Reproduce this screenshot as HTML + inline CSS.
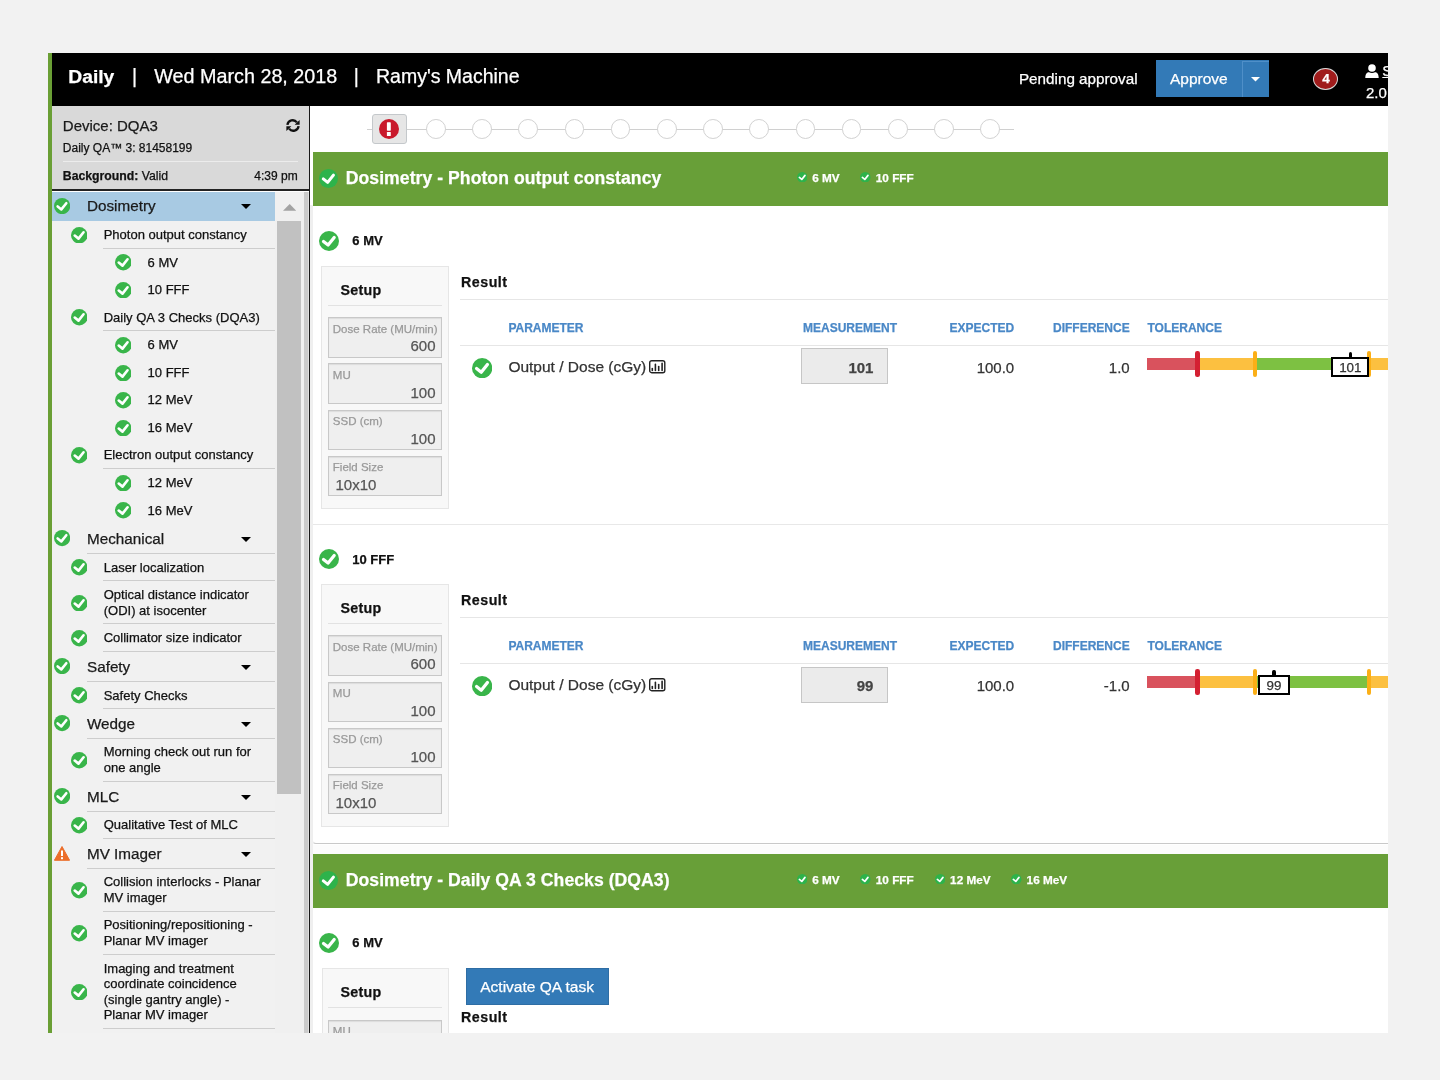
<!DOCTYPE html><html><head><meta charset="utf-8"><title>Daily QA</title><style>
html,body{margin:0;padding:0;}body{width:1440px;height:1080px;background:#f2f2f2;position:relative;overflow:hidden;font-family:"Liberation Sans", Arial, sans-serif;}
.t{position:absolute;white-space:nowrap;-webkit-text-stroke:0.25px currentColor;}.r{position:absolute;display:block;}
#app{position:absolute;left:0;top:0;width:1388px;height:1033px;overflow:hidden;}
</style></head><body><div id="app">
<div class="r" style="left:48.00px;top:53.00px;width:1340.00px;height:980.00px;background:#fff"></div>
<div class="r" style="left:48.00px;top:53.00px;width:1340.00px;height:53.00px;background:#000"></div>
<div class="r" style="left:48.00px;top:53.00px;width:4.00px;height:980.00px;background:#6a9f35"></div>
<div class="t" style="left:68.30px;top:63.83px;font-size:19.25px;line-height:25px;font-weight:bold;color:#fff;">Daily</div>
<div class="t" style="left:132.00px;top:63.74px;font-size:19.5px;line-height:25px;color:#fff;">|</div>
<div class="t" style="left:154.30px;top:63.16px;font-size:19.75px;line-height:26px;color:#fff;">Wed March 28, 2018</div>
<div class="t" style="left:353.80px;top:63.74px;font-size:19.5px;line-height:25px;color:#fff;">|</div>
<div class="t" style="left:376.00px;top:63.74px;font-size:19.5px;line-height:25px;color:#fff;">Ramy's Machine</div>
<div class="t" style="left:1018.90px;top:69.22px;font-size:15.25px;line-height:20px;color:#fff;">Pending approval</div>
<div class="r" style="left:1156.00px;top:60.00px;width:113.00px;height:37.00px;background:#337ab7"></div>
<div class="r" style="left:1242.00px;top:61.00px;width:1.00px;height:36.00px;background:#4f8fc8"></div>
<div class="r" style="left:1243.00px;top:61.00px;width:26.00px;height:1.00px;background:#4f8fc8"></div>
<div class="t" style="left:1170.00px;top:68.63px;font-size:15.5px;line-height:20px;color:#fff;">Approve</div>
<svg class="r" style="left:1250.50px;top:77.25px" width="9" height="4.5" viewBox="0 0 9 4.5"><path d="M0,0 L9,0 L4.5,4.5 Z" fill="#fff"/></svg>
<div class="r" style="left:1312.8px;top:68px;width:23px;height:19.8px;border:1.5px solid #d9d9d9;border-radius:50%;background:#a01c1c;"></div>
<div class="t" style="left:1026.00px;width:600px;text-align:center;top:70.32px;font-size:13.5px;line-height:18px;font-weight:bold;color:#fff;">4</div>
<svg class="r" style="left:1365px;top:63.5px" width="14" height="14.5" viewBox="0 0 14 14.5"><circle cx="7" cy="4" r="3.8" fill="#fff"/><path d="M0.3,14.2 C0.3,9.5 2,8.4 4,8.2 C5.5,9.3 8.5,9.3 10,8.2 C12,8.4 13.7,9.5 13.7,14.2 Z" fill="#fff"/></svg>
<div class="t" style="left:1382.30px;top:60.80px;font-size:15px;line-height:20px;color:#fff;text-decoration:underline;">S</div>
<div class="t" style="left:1366.00px;top:82.80px;font-size:15px;line-height:20px;color:#fff;">2.0</div>
<div class="r" style="left:52.00px;top:106.00px;width:258.00px;height:84.00px;background:#d9d9d9"></div>
<div class="t" style="left:62.80px;top:116.00px;font-size:15px;line-height:20px;color:#1a1a1a;">Device: DQA3</div>
<div class="t" style="left:62.80px;top:139.84px;font-size:12px;line-height:16px;color:#111;">Daily QA™ 3: 81458199</div>
<div class="r" style="left:62.80px;top:161.00px;width:235.50px;height:1.00px;background:#ececec"></div>
<div class="t" style="left:62.80px;top:167.76px;font-size:12.25px;line-height:16px;color:#111;"><b>Background:</b> Valid</div>
<div class="t" style="right:1090.30px;text-align:right;top:167.84px;font-size:12px;line-height:16px;color:#111;">4:39 pm</div>
<svg class="r" style="left:286px;top:119px" width="14" height="13" viewBox="0 0 14 13"><path d="M1.4,5.9 A5.3,5.3 0 0 1 10.9,3.4" fill="none" stroke="#111" stroke-width="2.3"/><path d="M13.6,1 L13.6,5.8 L8.6,5.8 Z" fill="#111"/><path d="M12.6,7.1 A5.3,5.3 0 0 1 3.1,9.6" fill="none" stroke="#111" stroke-width="2.3"/><path d="M0.4,12 L0.4,7.2 L5.4,7.2 Z" fill="#111"/></svg>
<div class="r" style="left:52.00px;top:189.00px;width:257.00px;height:1.50px;background:#222"></div>
<div class="r" style="left:52.00px;top:190.50px;width:257.00px;height:1.50px;background:#fff"></div>
<div class="r" style="left:52.00px;top:192.00px;width:257.00px;height:841.00px;background:#f1f1f1"></div>
<div class="r" style="left:52.00px;top:192.00px;width:223.00px;height:29.00px;background:#a8cae3"></div>
<div class="r" style="left:275.00px;top:192.00px;width:28.60px;height:841.00px;background:#f0f0f0"></div>
<svg class="r" style="left:282.8px;top:203.8px" width="13.4" height="6.8" viewBox="0 0 13.4 6.8"><path d="M0,6.8 L6.7,0 L13.4,6.8 Z" fill="#a3a3a3"/></svg>
<div class="r" style="left:277.20px;top:220.80px;width:23.90px;height:573.60px;background:#c1c1c1"></div>
<div class="r" style="left:303.80px;top:192.00px;width:4.20px;height:841.00px;background:#cbcbcb"></div>
<div class="r" style="left:308.90px;top:106.00px;width:1.40px;height:927.00px;background:#1a1a1a"></div>
<div class="r" style="left:308.00px;top:192.00px;width:0.90px;height:841.00px;background:#e0e0e0"></div>
<svg class="r" style="left:53.80px;top:197.70px" width="16.20" height="16.20" viewBox="-10 -10 20 20"><circle r="10" fill="#39b54a"/><path d="M-5.5,0.4 L-0.9,4.1 L5.2,-3.6" fill="none" stroke="#fff" stroke-width="3.2" stroke-linecap="round" stroke-linejoin="round"/></svg>
<div class="t" style="left:87.00px;top:196.12px;font-size:15.25px;line-height:20px;color:#1a1a1a;">Dosimetry</div>
<svg class="r" style="left:241.00px;top:204.10px" width="10" height="5" viewBox="0 0 10 5"><path d="M0,0 L10,0 L5.0,5 Z" fill="#000"/></svg>
<svg class="r" style="left:70.75px;top:226.72px" width="16.50" height="16.50" viewBox="-10 -10 20 20"><circle r="10" fill="#39b54a"/><path d="M-5.5,0.4 L-0.9,4.1 L5.2,-3.6" fill="none" stroke="#fff" stroke-width="3.2" stroke-linecap="round" stroke-linejoin="round"/></svg>
<div class="t" style="left:103.70px;top:226.07px;font-size:13px;line-height:17px;color:#111;">Photon output constancy</div>
<div class="r" style="left:103.40px;top:247.65px;width:171.60px;height:1.00px;background:#cdcdcd"></div>
<svg class="r" style="left:114.75px;top:254.38px" width="16.50" height="16.50" viewBox="-10 -10 20 20"><circle r="10" fill="#39b54a"/><path d="M-5.5,0.4 L-0.9,4.1 L5.2,-3.6" fill="none" stroke="#fff" stroke-width="3.2" stroke-linecap="round" stroke-linejoin="round"/></svg>
<div class="t" style="left:147.60px;top:253.62px;font-size:13px;line-height:17px;color:#111;">6 MV</div>
<svg class="r" style="left:114.75px;top:281.92px" width="16.50" height="16.50" viewBox="-10 -10 20 20"><circle r="10" fill="#39b54a"/><path d="M-5.5,0.4 L-0.9,4.1 L5.2,-3.6" fill="none" stroke="#fff" stroke-width="3.2" stroke-linecap="round" stroke-linejoin="round"/></svg>
<div class="t" style="left:147.60px;top:281.17px;font-size:13px;line-height:17px;color:#111;">10 FFF</div>
<svg class="r" style="left:70.75px;top:309.38px" width="16.50" height="16.50" viewBox="-10 -10 20 20"><circle r="10" fill="#39b54a"/><path d="M-5.5,0.4 L-0.9,4.1 L5.2,-3.6" fill="none" stroke="#fff" stroke-width="3.2" stroke-linecap="round" stroke-linejoin="round"/></svg>
<div class="t" style="left:103.70px;top:308.72px;font-size:13px;line-height:17px;color:#111;">Daily QA 3 Checks (DQA3)</div>
<div class="r" style="left:103.40px;top:330.30px;width:171.60px;height:1.00px;background:#cdcdcd"></div>
<svg class="r" style="left:114.75px;top:337.02px" width="16.50" height="16.50" viewBox="-10 -10 20 20"><circle r="10" fill="#39b54a"/><path d="M-5.5,0.4 L-0.9,4.1 L5.2,-3.6" fill="none" stroke="#fff" stroke-width="3.2" stroke-linecap="round" stroke-linejoin="round"/></svg>
<div class="t" style="left:147.60px;top:336.27px;font-size:13px;line-height:17px;color:#111;">6 MV</div>
<svg class="r" style="left:114.75px;top:364.57px" width="16.50" height="16.50" viewBox="-10 -10 20 20"><circle r="10" fill="#39b54a"/><path d="M-5.5,0.4 L-0.9,4.1 L5.2,-3.6" fill="none" stroke="#fff" stroke-width="3.2" stroke-linecap="round" stroke-linejoin="round"/></svg>
<div class="t" style="left:147.60px;top:363.82px;font-size:13px;line-height:17px;color:#111;">10 FFF</div>
<svg class="r" style="left:114.75px;top:392.12px" width="16.50" height="16.50" viewBox="-10 -10 20 20"><circle r="10" fill="#39b54a"/><path d="M-5.5,0.4 L-0.9,4.1 L5.2,-3.6" fill="none" stroke="#fff" stroke-width="3.2" stroke-linecap="round" stroke-linejoin="round"/></svg>
<div class="t" style="left:147.60px;top:391.37px;font-size:13px;line-height:17px;color:#111;">12 MeV</div>
<svg class="r" style="left:114.75px;top:419.68px" width="16.50" height="16.50" viewBox="-10 -10 20 20"><circle r="10" fill="#39b54a"/><path d="M-5.5,0.4 L-0.9,4.1 L5.2,-3.6" fill="none" stroke="#fff" stroke-width="3.2" stroke-linecap="round" stroke-linejoin="round"/></svg>
<div class="t" style="left:147.60px;top:418.92px;font-size:13px;line-height:17px;color:#111;">16 MeV</div>
<svg class="r" style="left:70.75px;top:447.13px" width="16.50" height="16.50" viewBox="-10 -10 20 20"><circle r="10" fill="#39b54a"/><path d="M-5.5,0.4 L-0.9,4.1 L5.2,-3.6" fill="none" stroke="#fff" stroke-width="3.2" stroke-linecap="round" stroke-linejoin="round"/></svg>
<div class="t" style="left:103.70px;top:446.47px;font-size:13px;line-height:17px;color:#111;">Electron output constancy</div>
<div class="r" style="left:103.40px;top:468.05px;width:171.60px;height:1.00px;background:#cdcdcd"></div>
<svg class="r" style="left:114.75px;top:474.78px" width="16.50" height="16.50" viewBox="-10 -10 20 20"><circle r="10" fill="#39b54a"/><path d="M-5.5,0.4 L-0.9,4.1 L5.2,-3.6" fill="none" stroke="#fff" stroke-width="3.2" stroke-linecap="round" stroke-linejoin="round"/></svg>
<div class="t" style="left:147.60px;top:474.02px;font-size:13px;line-height:17px;color:#111;">12 MeV</div>
<svg class="r" style="left:114.75px;top:502.33px" width="16.50" height="16.50" viewBox="-10 -10 20 20"><circle r="10" fill="#39b54a"/><path d="M-5.5,0.4 L-0.9,4.1 L5.2,-3.6" fill="none" stroke="#fff" stroke-width="3.2" stroke-linecap="round" stroke-linejoin="round"/></svg>
<div class="t" style="left:147.60px;top:501.57px;font-size:13px;line-height:17px;color:#111;">16 MeV</div>
<svg class="r" style="left:53.80px;top:530.35px" width="16.20" height="16.20" viewBox="-10 -10 20 20"><circle r="10" fill="#39b54a"/><path d="M-5.5,0.4 L-0.9,4.1 L5.2,-3.6" fill="none" stroke="#fff" stroke-width="3.2" stroke-linecap="round" stroke-linejoin="round"/></svg>
<div class="t" style="left:87.00px;top:528.77px;font-size:15.25px;line-height:20px;color:#1a1a1a;">Mechanical</div>
<svg class="r" style="left:241.00px;top:536.75px" width="10" height="5" viewBox="0 0 10 5"><path d="M0,0 L10,0 L5.0,5 Z" fill="#000"/></svg>
<div class="r" style="left:87.00px;top:552.75px;width:188.00px;height:1.00px;background:#cdcdcd"></div>
<svg class="r" style="left:70.75px;top:559.38px" width="16.50" height="16.50" viewBox="-10 -10 20 20"><circle r="10" fill="#39b54a"/><path d="M-5.5,0.4 L-0.9,4.1 L5.2,-3.6" fill="none" stroke="#fff" stroke-width="3.2" stroke-linecap="round" stroke-linejoin="round"/></svg>
<div class="t" style="left:103.70px;top:558.72px;font-size:13px;line-height:17px;color:#111;">Laser localization</div>
<div class="r" style="left:103.40px;top:580.30px;width:171.60px;height:1.00px;background:#cdcdcd"></div>
<svg class="r" style="left:70.75px;top:594.73px" width="16.50" height="16.50" viewBox="-10 -10 20 20"><circle r="10" fill="#39b54a"/><path d="M-5.5,0.4 L-0.9,4.1 L5.2,-3.6" fill="none" stroke="#fff" stroke-width="3.2" stroke-linecap="round" stroke-linejoin="round"/></svg>
<div class="t" style="left:103.7px;top:586.97px;font-size:13px;line-height:15.6px;color:#111;">Optical distance indicator<br>(ODI) at isocenter</div>
<div class="r" style="left:103.40px;top:623.45px;width:171.60px;height:1.00px;background:#cdcdcd"></div>
<svg class="r" style="left:70.75px;top:630.08px" width="16.50" height="16.50" viewBox="-10 -10 20 20"><circle r="10" fill="#39b54a"/><path d="M-5.5,0.4 L-0.9,4.1 L5.2,-3.6" fill="none" stroke="#fff" stroke-width="3.2" stroke-linecap="round" stroke-linejoin="round"/></svg>
<div class="t" style="left:103.70px;top:629.42px;font-size:13px;line-height:17px;color:#111;">Collimator size indicator</div>
<div class="r" style="left:103.40px;top:651.00px;width:171.60px;height:1.00px;background:#cdcdcd"></div>
<svg class="r" style="left:53.80px;top:658.20px" width="16.20" height="16.20" viewBox="-10 -10 20 20"><circle r="10" fill="#39b54a"/><path d="M-5.5,0.4 L-0.9,4.1 L5.2,-3.6" fill="none" stroke="#fff" stroke-width="3.2" stroke-linecap="round" stroke-linejoin="round"/></svg>
<div class="t" style="left:87.00px;top:656.62px;font-size:15.25px;line-height:20px;color:#1a1a1a;">Safety</div>
<svg class="r" style="left:241.00px;top:664.60px" width="10" height="5" viewBox="0 0 10 5"><path d="M0,0 L10,0 L5.0,5 Z" fill="#000"/></svg>
<div class="r" style="left:87.00px;top:680.60px;width:188.00px;height:1.00px;background:#cdcdcd"></div>
<svg class="r" style="left:70.75px;top:687.23px" width="16.50" height="16.50" viewBox="-10 -10 20 20"><circle r="10" fill="#39b54a"/><path d="M-5.5,0.4 L-0.9,4.1 L5.2,-3.6" fill="none" stroke="#fff" stroke-width="3.2" stroke-linecap="round" stroke-linejoin="round"/></svg>
<div class="t" style="left:103.70px;top:686.57px;font-size:13px;line-height:17px;color:#111;">Safety Checks</div>
<div class="r" style="left:103.40px;top:708.15px;width:171.60px;height:1.00px;background:#cdcdcd"></div>
<svg class="r" style="left:53.80px;top:715.35px" width="16.20" height="16.20" viewBox="-10 -10 20 20"><circle r="10" fill="#39b54a"/><path d="M-5.5,0.4 L-0.9,4.1 L5.2,-3.6" fill="none" stroke="#fff" stroke-width="3.2" stroke-linecap="round" stroke-linejoin="round"/></svg>
<div class="t" style="left:87.00px;top:713.77px;font-size:15.25px;line-height:20px;color:#1a1a1a;">Wedge</div>
<svg class="r" style="left:241.00px;top:721.75px" width="10" height="5" viewBox="0 0 10 5"><path d="M0,0 L10,0 L5.0,5 Z" fill="#000"/></svg>
<div class="r" style="left:87.00px;top:737.75px;width:188.00px;height:1.00px;background:#cdcdcd"></div>
<svg class="r" style="left:70.75px;top:752.18px" width="16.50" height="16.50" viewBox="-10 -10 20 20"><circle r="10" fill="#39b54a"/><path d="M-5.5,0.4 L-0.9,4.1 L5.2,-3.6" fill="none" stroke="#fff" stroke-width="3.2" stroke-linecap="round" stroke-linejoin="round"/></svg>
<div class="t" style="left:103.7px;top:744.42px;font-size:13px;line-height:15.6px;color:#111;">Morning check out run for<br>one angle</div>
<div class="r" style="left:103.40px;top:780.90px;width:171.60px;height:1.00px;background:#cdcdcd"></div>
<svg class="r" style="left:53.80px;top:788.10px" width="16.20" height="16.20" viewBox="-10 -10 20 20"><circle r="10" fill="#39b54a"/><path d="M-5.5,0.4 L-0.9,4.1 L5.2,-3.6" fill="none" stroke="#fff" stroke-width="3.2" stroke-linecap="round" stroke-linejoin="round"/></svg>
<div class="t" style="left:87.00px;top:786.52px;font-size:15.25px;line-height:20px;color:#1a1a1a;">MLC</div>
<svg class="r" style="left:241.00px;top:794.50px" width="10" height="5" viewBox="0 0 10 5"><path d="M0,0 L10,0 L5.0,5 Z" fill="#000"/></svg>
<div class="r" style="left:87.00px;top:810.50px;width:188.00px;height:1.00px;background:#cdcdcd"></div>
<svg class="r" style="left:70.75px;top:817.12px" width="16.50" height="16.50" viewBox="-10 -10 20 20"><circle r="10" fill="#39b54a"/><path d="M-5.5,0.4 L-0.9,4.1 L5.2,-3.6" fill="none" stroke="#fff" stroke-width="3.2" stroke-linecap="round" stroke-linejoin="round"/></svg>
<div class="t" style="left:103.70px;top:816.47px;font-size:13px;line-height:17px;color:#111;">Qualitative Test of MLC</div>
<div class="r" style="left:103.40px;top:838.05px;width:171.60px;height:1.00px;background:#cdcdcd"></div>
<svg class="r" style="left:54px;top:845.85px" width="16" height="15" viewBox="0 0 16 15"><path d="M8,0.5 L15.6,14.3 L0.4,14.3 Z" fill="#ec6e2b" stroke="#ec6e2b" stroke-width="1" stroke-linejoin="round"/><rect x="7" y="4.5" width="2" height="5.5" fill="#fff"/><rect x="7" y="11.2" width="2" height="2" fill="#fff"/></svg>
<div class="t" style="left:87.00px;top:843.67px;font-size:15.25px;line-height:20px;color:#1a1a1a;">MV Imager</div>
<svg class="r" style="left:241.00px;top:851.65px" width="10" height="5" viewBox="0 0 10 5"><path d="M0,0 L10,0 L5.0,5 Z" fill="#000"/></svg>
<div class="r" style="left:87.00px;top:867.65px;width:188.00px;height:1.00px;background:#cdcdcd"></div>
<svg class="r" style="left:70.75px;top:882.08px" width="16.50" height="16.50" viewBox="-10 -10 20 20"><circle r="10" fill="#39b54a"/><path d="M-5.5,0.4 L-0.9,4.1 L5.2,-3.6" fill="none" stroke="#fff" stroke-width="3.2" stroke-linecap="round" stroke-linejoin="round"/></svg>
<div class="t" style="left:103.7px;top:874.32px;font-size:13px;line-height:15.6px;color:#111;">Collision interlocks - Planar<br>MV imager</div>
<div class="r" style="left:103.40px;top:910.80px;width:171.60px;height:1.00px;background:#cdcdcd"></div>
<svg class="r" style="left:70.75px;top:925.23px" width="16.50" height="16.50" viewBox="-10 -10 20 20"><circle r="10" fill="#39b54a"/><path d="M-5.5,0.4 L-0.9,4.1 L5.2,-3.6" fill="none" stroke="#fff" stroke-width="3.2" stroke-linecap="round" stroke-linejoin="round"/></svg>
<div class="t" style="left:103.7px;top:917.47px;font-size:13px;line-height:15.6px;color:#111;">Positioning/repositioning -<br>Planar MV imager</div>
<div class="r" style="left:103.40px;top:953.95px;width:171.60px;height:1.00px;background:#cdcdcd"></div>
<svg class="r" style="left:70.75px;top:983.97px" width="16.50" height="16.50" viewBox="-10 -10 20 20"><circle r="10" fill="#39b54a"/><path d="M-5.5,0.4 L-0.9,4.1 L5.2,-3.6" fill="none" stroke="#fff" stroke-width="3.2" stroke-linecap="round" stroke-linejoin="round"/></svg>
<div class="t" style="left:103.7px;top:960.62px;font-size:13px;line-height:15.6px;color:#111;">Imaging and treatment<br>coordinate coincidence<br>(single gantry angle) -<br>Planar MV imager</div>
<div class="r" style="left:103.40px;top:1028.30px;width:171.60px;height:1.00px;background:#cdcdcd"></div>
<div class="r" style="left:310.30px;top:205.00px;width:2.50px;height:828.00px;background:#efefef"></div>
<div class="r" style="left:366.70px;top:129.00px;width:647.00px;height:1.20px;background:#d0d0d0"></div>
<div class="r" style="left:372px;top:114px;width:33px;height:28px;background:#e6e6e6;border:1px solid #c4c8cb;border-radius:3px;"></div>
<svg class="r" style="left:379.4px;top:119.2px" width="20" height="20" viewBox="0 0 20 20"><circle cx="10" cy="10" r="10" fill="#c9192c"/><rect x="7.9" y="3.3" width="3.9" height="8.4" rx="0.6" fill="#fff"/><rect x="7.9" y="13" width="3.9" height="4" rx="0.5" fill="#fff"/></svg>
<div class="r" style="left:425.90px;top:119.1px;width:17.8px;height:17.8px;border:1.1px solid #d2d2d2;border-radius:50%;background:#fff;"></div>
<div class="r" style="left:472.10px;top:119.1px;width:17.8px;height:17.8px;border:1.1px solid #d2d2d2;border-radius:50%;background:#fff;"></div>
<div class="r" style="left:518.30px;top:119.1px;width:17.8px;height:17.8px;border:1.1px solid #d2d2d2;border-radius:50%;background:#fff;"></div>
<div class="r" style="left:564.50px;top:119.1px;width:17.8px;height:17.8px;border:1.1px solid #d2d2d2;border-radius:50%;background:#fff;"></div>
<div class="r" style="left:610.70px;top:119.1px;width:17.8px;height:17.8px;border:1.1px solid #d2d2d2;border-radius:50%;background:#fff;"></div>
<div class="r" style="left:656.90px;top:119.1px;width:17.8px;height:17.8px;border:1.1px solid #d2d2d2;border-radius:50%;background:#fff;"></div>
<div class="r" style="left:703.10px;top:119.1px;width:17.8px;height:17.8px;border:1.1px solid #d2d2d2;border-radius:50%;background:#fff;"></div>
<div class="r" style="left:749.30px;top:119.1px;width:17.8px;height:17.8px;border:1.1px solid #d2d2d2;border-radius:50%;background:#fff;"></div>
<div class="r" style="left:795.50px;top:119.1px;width:17.8px;height:17.8px;border:1.1px solid #d2d2d2;border-radius:50%;background:#fff;"></div>
<div class="r" style="left:841.70px;top:119.1px;width:17.8px;height:17.8px;border:1.1px solid #d2d2d2;border-radius:50%;background:#fff;"></div>
<div class="r" style="left:887.90px;top:119.1px;width:17.8px;height:17.8px;border:1.1px solid #d2d2d2;border-radius:50%;background:#fff;"></div>
<div class="r" style="left:934.10px;top:119.1px;width:17.8px;height:17.8px;border:1.1px solid #d2d2d2;border-radius:50%;background:#fff;"></div>
<div class="r" style="left:980.30px;top:119.1px;width:17.8px;height:17.8px;border:1.1px solid #d2d2d2;border-radius:50%;background:#fff;"></div>
<div class="r" style="left:312.50px;top:152.20px;width:1076.00px;height:53.80px;background:#689f38"></div>
<svg class="r" style="left:319.30px;top:168.80px" width="19.00" height="19.00" viewBox="-10 -10 20 20"><circle r="10" fill="#2db34b"/><path d="M-5.5,0.4 L-0.9,4.1 L5.2,-3.6" fill="none" stroke="#fff" stroke-width="3.2" stroke-linecap="round" stroke-linejoin="round"/></svg>
<div class="t" style="left:345.80px;top:166.80px;font-size:17.6px;line-height:23px;font-weight:bold;color:#fff;letter-spacing:0.05px;">Dosimetry - Photon output constancy</div>
<svg class="r" style="left:796.65px;top:171.95px" width="10.50" height="10.50" viewBox="-10 -10 20 20"><circle r="10" fill="#2db34b"/><path d="M-5.5,0.4 L-0.9,4.1 L5.2,-3.6" fill="none" stroke="#fff" stroke-width="3.2" stroke-linecap="round" stroke-linejoin="round"/></svg>
<div class="t" style="left:812.20px;top:170.13px;font-size:11.75px;line-height:15px;font-weight:bold;color:#fff;">6 MV</div>
<svg class="r" style="left:860.25px;top:171.95px" width="10.50" height="10.50" viewBox="-10 -10 20 20"><circle r="10" fill="#2db34b"/><path d="M-5.5,0.4 L-0.9,4.1 L5.2,-3.6" fill="none" stroke="#fff" stroke-width="3.2" stroke-linecap="round" stroke-linejoin="round"/></svg>
<div class="t" style="left:875.80px;top:170.13px;font-size:11.75px;line-height:15px;font-weight:bold;color:#fff;">10 FFF</div>
<svg class="r" style="left:318.90px;top:230.80px" width="20.00" height="20.00" viewBox="-10 -10 20 20"><circle r="10" fill="#39b54a"/><path d="M-5.5,0.4 L-0.9,4.1 L5.2,-3.6" fill="none" stroke="#fff" stroke-width="3.2" stroke-linecap="round" stroke-linejoin="round"/></svg>
<div class="t" style="left:352.30px;top:232.40px;font-size:13px;line-height:17px;font-weight:bold;color:#111;">6 MV</div>
<div class="r" style="left:321.1px;top:265.80px;width:125.5px;height:241.00px;background:#f8f8f8;border:1px solid #e6e6e6;"></div>
<div class="t" style="left:340.50px;top:280.66px;font-size:14.25px;line-height:19px;font-weight:bold;color:#111;letter-spacing:0.3px;">Setup</div>
<div class="r" style="left:328.00px;top:305.30px;width:114.00px;height:1.00px;background:#e2e2e2"></div>
<div class="r" style="left:328px;top:317.20px;width:111.7px;height:38.5px;background:#efefef;border:1px solid #c8c8c8;box-shadow:inset 0 1px 1px rgba(0,0,0,.08);"></div>
<div class="t" style="left:332.80px;top:321.52px;font-size:11.5px;line-height:15px;color:#999;">Dose Rate (MU/min)</div>
<div class="t" style="right:952.50px;text-align:right;top:336.30px;font-size:15px;line-height:20px;color:#555;">600</div>
<div class="r" style="left:328px;top:363.40px;width:111.7px;height:38.5px;background:#efefef;border:1px solid #c8c8c8;box-shadow:inset 0 1px 1px rgba(0,0,0,.08);"></div>
<div class="t" style="left:332.80px;top:367.72px;font-size:11.5px;line-height:15px;color:#999;">MU</div>
<div class="t" style="right:952.50px;text-align:right;top:382.50px;font-size:15px;line-height:20px;color:#555;">100</div>
<div class="r" style="left:328px;top:409.60px;width:111.7px;height:38.5px;background:#efefef;border:1px solid #c8c8c8;box-shadow:inset 0 1px 1px rgba(0,0,0,.08);"></div>
<div class="t" style="left:332.80px;top:413.92px;font-size:11.5px;line-height:15px;color:#999;">SSD (cm)</div>
<div class="t" style="right:952.50px;text-align:right;top:428.70px;font-size:15px;line-height:20px;color:#555;">100</div>
<div class="r" style="left:328px;top:455.80px;width:111.7px;height:38.5px;background:#efefef;border:1px solid #c8c8c8;box-shadow:inset 0 1px 1px rgba(0,0,0,.08);"></div>
<div class="t" style="left:332.80px;top:460.12px;font-size:11.5px;line-height:15px;color:#999;">Field Size</div>
<div class="t" style="left:335.50px;top:474.90px;font-size:15px;line-height:20px;color:#555;">10x10</div>
<div class="t" style="left:461.00px;top:272.96px;font-size:14.25px;line-height:19px;font-weight:bold;color:#111;letter-spacing:0.5px;">Result</div>
<div class="r" style="left:460.00px;top:299.00px;width:928.00px;height:1.20px;background:#e6e6e6"></div>
<div class="t" style="left:508.40px;top:319.64px;font-size:12px;line-height:16px;font-weight:bold;color:#4a88c7;">PARAMETER</div>
<div class="t" style="left:803.00px;top:319.64px;font-size:12px;line-height:16px;font-weight:bold;color:#4a88c7;">MEASUREMENT</div>
<div class="t" style="right:373.80px;text-align:right;top:319.64px;font-size:12px;line-height:16px;font-weight:bold;color:#4a88c7;">EXPECTED</div>
<div class="t" style="right:258.30px;text-align:right;top:319.64px;font-size:12px;line-height:16px;font-weight:bold;color:#4a88c7;">DIFFERENCE</div>
<div class="t" style="left:1147.50px;top:319.64px;font-size:12px;line-height:16px;font-weight:bold;color:#4a88c7;">TOLERANCE</div>
<div class="r" style="left:460.00px;top:345.00px;width:928.00px;height:1.20px;background:#e6e6e6"></div>
<svg class="r" style="left:471.75px;top:357.65px" width="20.30" height="20.30" viewBox="-10 -10 20 20"><circle r="10" fill="#39b54a"/><path d="M-5.5,0.4 L-0.9,4.1 L5.2,-3.6" fill="none" stroke="#fff" stroke-width="3.2" stroke-linecap="round" stroke-linejoin="round"/></svg>
<div class="t" style="left:508.40px;top:357.03px;font-size:15.5px;line-height:20px;color:#333;">Output / Dose (cGy)</div>
<svg class="r" style="left:649.3px;top:360.20px" width="16.5" height="13.4" viewBox="0 0 16.5 13.4"><rect x="0.7" y="0.7" width="15.1" height="12" rx="2" fill="none" stroke="#222" stroke-width="1.4"/><g stroke="#222" stroke-width="1.6" stroke-linecap="round"><line x1="3.3" y1="10.4" x2="3.3" y2="8.5"/><line x1="6.4" y1="10.4" x2="6.4" y2="4.4"/><line x1="9.7" y1="10.4" x2="9.7" y2="6.6"/><line x1="13.1" y1="10.4" x2="13.1" y2="3.4"/></g></svg>
<div class="r" style="left:800.6px;top:348.40px;width:85px;height:34px;background:#ebebeb;border:1px solid #c6c6c6;"></div>
<div class="t" style="right:514.60px;text-align:right;top:357.80px;font-size:15px;line-height:20px;font-weight:bold;color:#444;">101</div>
<div class="t" style="right:373.80px;text-align:right;top:357.80px;font-size:15px;line-height:20px;color:#333;">100.0</div>
<div class="t" style="right:258.30px;text-align:right;top:357.80px;font-size:15px;line-height:20px;color:#333;">1.0</div>
<div class="r" style="left:1147.00px;top:358.30px;width:50.40px;height:11.30px;background:#d9525d"></div>
<div class="r" style="left:1197.40px;top:358.30px;width:57.30px;height:11.30px;background:#fcc040"></div>
<div class="r" style="left:1254.70px;top:358.30px;width:114.60px;height:11.30px;background:#7dc142"></div>
<div class="r" style="left:1369.30px;top:358.30px;width:20.00px;height:11.30px;background:#fcc040"></div>
<div class="r" style="left:1195.20px;top:351.30px;width:4.4px;height:25.5px;background:#d42032;border-radius:2.2px;"></div>
<div class="r" style="left:1252.50px;top:351.30px;width:4.4px;height:25.5px;background:#fbaf17;border-radius:2.2px;"></div>
<div class="r" style="left:1367.10px;top:351.30px;width:4.4px;height:25.5px;background:#fbaf17;border-radius:2.2px;"></div>
<div class="r" style="left:1348.60px;top:351.60px;width:3.4px;height:8px;background:#000;border-radius:1.7px 1.7px 0 0;"></div>
<div class="r" style="left:1331.30px;top:357.10px;width:34.00px;height:16px;border:2px solid #000;background:#fff;"></div>
<div class="t" style="left:1050.30px;width:600px;text-align:center;top:358.86px;font-size:13.4px;line-height:17px;color:#333;">101</div>
<div class="r" style="left:312.50px;top:523.80px;width:1076.00px;height:1.20px;background:#e8e8e8"></div>
<svg class="r" style="left:318.90px;top:548.90px" width="20.00" height="20.00" viewBox="-10 -10 20 20"><circle r="10" fill="#39b54a"/><path d="M-5.5,0.4 L-0.9,4.1 L5.2,-3.6" fill="none" stroke="#fff" stroke-width="3.2" stroke-linecap="round" stroke-linejoin="round"/></svg>
<div class="t" style="left:352.30px;top:550.50px;font-size:13px;line-height:17px;font-weight:bold;color:#111;">10 FFF</div>
<div class="r" style="left:321.1px;top:583.90px;width:125.5px;height:241.00px;background:#f8f8f8;border:1px solid #e6e6e6;"></div>
<div class="t" style="left:340.50px;top:598.76px;font-size:14.25px;line-height:19px;font-weight:bold;color:#111;letter-spacing:0.3px;">Setup</div>
<div class="r" style="left:328.00px;top:623.40px;width:114.00px;height:1.00px;background:#e2e2e2"></div>
<div class="r" style="left:328px;top:635.30px;width:111.7px;height:38.5px;background:#efefef;border:1px solid #c8c8c8;box-shadow:inset 0 1px 1px rgba(0,0,0,.08);"></div>
<div class="t" style="left:332.80px;top:639.62px;font-size:11.5px;line-height:15px;color:#999;">Dose Rate (MU/min)</div>
<div class="t" style="right:952.50px;text-align:right;top:654.40px;font-size:15px;line-height:20px;color:#555;">600</div>
<div class="r" style="left:328px;top:681.50px;width:111.7px;height:38.5px;background:#efefef;border:1px solid #c8c8c8;box-shadow:inset 0 1px 1px rgba(0,0,0,.08);"></div>
<div class="t" style="left:332.80px;top:685.82px;font-size:11.5px;line-height:15px;color:#999;">MU</div>
<div class="t" style="right:952.50px;text-align:right;top:700.60px;font-size:15px;line-height:20px;color:#555;">100</div>
<div class="r" style="left:328px;top:727.70px;width:111.7px;height:38.5px;background:#efefef;border:1px solid #c8c8c8;box-shadow:inset 0 1px 1px rgba(0,0,0,.08);"></div>
<div class="t" style="left:332.80px;top:732.02px;font-size:11.5px;line-height:15px;color:#999;">SSD (cm)</div>
<div class="t" style="right:952.50px;text-align:right;top:746.80px;font-size:15px;line-height:20px;color:#555;">100</div>
<div class="r" style="left:328px;top:773.90px;width:111.7px;height:38.5px;background:#efefef;border:1px solid #c8c8c8;box-shadow:inset 0 1px 1px rgba(0,0,0,.08);"></div>
<div class="t" style="left:332.80px;top:778.22px;font-size:11.5px;line-height:15px;color:#999;">Field Size</div>
<div class="t" style="left:335.50px;top:793.00px;font-size:15px;line-height:20px;color:#555;">10x10</div>
<div class="t" style="left:461.00px;top:591.06px;font-size:14.25px;line-height:19px;font-weight:bold;color:#111;letter-spacing:0.5px;">Result</div>
<div class="r" style="left:460.00px;top:617.10px;width:928.00px;height:1.20px;background:#e6e6e6"></div>
<div class="t" style="left:508.40px;top:637.74px;font-size:12px;line-height:16px;font-weight:bold;color:#4a88c7;">PARAMETER</div>
<div class="t" style="left:803.00px;top:637.74px;font-size:12px;line-height:16px;font-weight:bold;color:#4a88c7;">MEASUREMENT</div>
<div class="t" style="right:373.80px;text-align:right;top:637.74px;font-size:12px;line-height:16px;font-weight:bold;color:#4a88c7;">EXPECTED</div>
<div class="t" style="right:258.30px;text-align:right;top:637.74px;font-size:12px;line-height:16px;font-weight:bold;color:#4a88c7;">DIFFERENCE</div>
<div class="t" style="left:1147.50px;top:637.74px;font-size:12px;line-height:16px;font-weight:bold;color:#4a88c7;">TOLERANCE</div>
<div class="r" style="left:460.00px;top:663.10px;width:928.00px;height:1.20px;background:#e6e6e6"></div>
<svg class="r" style="left:471.75px;top:675.75px" width="20.30" height="20.30" viewBox="-10 -10 20 20"><circle r="10" fill="#39b54a"/><path d="M-5.5,0.4 L-0.9,4.1 L5.2,-3.6" fill="none" stroke="#fff" stroke-width="3.2" stroke-linecap="round" stroke-linejoin="round"/></svg>
<div class="t" style="left:508.40px;top:675.13px;font-size:15.5px;line-height:20px;color:#333;">Output / Dose (cGy)</div>
<svg class="r" style="left:649.3px;top:678.30px" width="16.5" height="13.4" viewBox="0 0 16.5 13.4"><rect x="0.7" y="0.7" width="15.1" height="12" rx="2" fill="none" stroke="#222" stroke-width="1.4"/><g stroke="#222" stroke-width="1.6" stroke-linecap="round"><line x1="3.3" y1="10.4" x2="3.3" y2="8.5"/><line x1="6.4" y1="10.4" x2="6.4" y2="4.4"/><line x1="9.7" y1="10.4" x2="9.7" y2="6.6"/><line x1="13.1" y1="10.4" x2="13.1" y2="3.4"/></g></svg>
<div class="r" style="left:800.6px;top:666.50px;width:85px;height:34px;background:#ebebeb;border:1px solid #c6c6c6;"></div>
<div class="t" style="right:514.60px;text-align:right;top:675.90px;font-size:15px;line-height:20px;font-weight:bold;color:#444;">99</div>
<div class="t" style="right:373.80px;text-align:right;top:675.90px;font-size:15px;line-height:20px;color:#333;">100.0</div>
<div class="t" style="right:258.30px;text-align:right;top:675.90px;font-size:15px;line-height:20px;color:#333;">-1.0</div>
<div class="r" style="left:1147.00px;top:676.40px;width:50.40px;height:11.30px;background:#d9525d"></div>
<div class="r" style="left:1197.40px;top:676.40px;width:57.30px;height:11.30px;background:#fcc040"></div>
<div class="r" style="left:1254.70px;top:676.40px;width:114.60px;height:11.30px;background:#7dc142"></div>
<div class="r" style="left:1369.30px;top:676.40px;width:20.00px;height:11.30px;background:#fcc040"></div>
<div class="r" style="left:1195.20px;top:669.40px;width:4.4px;height:25.5px;background:#d42032;border-radius:2.2px;"></div>
<div class="r" style="left:1252.50px;top:669.40px;width:4.4px;height:25.5px;background:#fbaf17;border-radius:2.2px;"></div>
<div class="r" style="left:1367.10px;top:669.40px;width:4.4px;height:25.5px;background:#fbaf17;border-radius:2.2px;"></div>
<div class="r" style="left:1272.20px;top:669.70px;width:3.4px;height:8px;background:#000;border-radius:1.7px 1.7px 0 0;"></div>
<div class="r" style="left:1258.25px;top:675.20px;width:27.30px;height:16px;border:2px solid #000;background:#fff;"></div>
<div class="t" style="left:973.90px;width:600px;text-align:center;top:676.96px;font-size:13.4px;line-height:17px;color:#333;">99</div>
<div class="r" style="left:311.8px;top:800px;width:1100px;height:42.5px;border-bottom:1.5px solid #c9c9c9;border-left:1px solid #eee;border-radius:0 0 0 4px;"></div>
<div class="r" style="left:312.50px;top:844.50px;width:1076.00px;height:9.70px;background:#fcfcfc"></div>
<div class="r" style="left:312.50px;top:854.20px;width:1076.00px;height:53.80px;background:#689f38"></div>
<svg class="r" style="left:319.30px;top:870.80px" width="19.00" height="19.00" viewBox="-10 -10 20 20"><circle r="10" fill="#2db34b"/><path d="M-5.5,0.4 L-0.9,4.1 L5.2,-3.6" fill="none" stroke="#fff" stroke-width="3.2" stroke-linecap="round" stroke-linejoin="round"/></svg>
<div class="t" style="left:345.80px;top:868.80px;font-size:17.6px;line-height:23px;font-weight:bold;color:#fff;letter-spacing:0.05px;">Dosimetry - Daily QA 3 Checks (DQA3)</div>
<svg class="r" style="left:796.65px;top:873.95px" width="10.50" height="10.50" viewBox="-10 -10 20 20"><circle r="10" fill="#2db34b"/><path d="M-5.5,0.4 L-0.9,4.1 L5.2,-3.6" fill="none" stroke="#fff" stroke-width="3.2" stroke-linecap="round" stroke-linejoin="round"/></svg>
<div class="t" style="left:812.20px;top:872.13px;font-size:11.75px;line-height:15px;font-weight:bold;color:#fff;">6 MV</div>
<svg class="r" style="left:860.25px;top:873.95px" width="10.50" height="10.50" viewBox="-10 -10 20 20"><circle r="10" fill="#2db34b"/><path d="M-5.5,0.4 L-0.9,4.1 L5.2,-3.6" fill="none" stroke="#fff" stroke-width="3.2" stroke-linecap="round" stroke-linejoin="round"/></svg>
<div class="t" style="left:875.80px;top:872.13px;font-size:11.75px;line-height:15px;font-weight:bold;color:#fff;">10 FFF</div>
<svg class="r" style="left:934.55px;top:873.95px" width="10.50" height="10.50" viewBox="-10 -10 20 20"><circle r="10" fill="#2db34b"/><path d="M-5.5,0.4 L-0.9,4.1 L5.2,-3.6" fill="none" stroke="#fff" stroke-width="3.2" stroke-linecap="round" stroke-linejoin="round"/></svg>
<div class="t" style="left:950.10px;top:872.13px;font-size:11.75px;line-height:15px;font-weight:bold;color:#fff;">12 MeV</div>
<svg class="r" style="left:1011.05px;top:873.95px" width="10.50" height="10.50" viewBox="-10 -10 20 20"><circle r="10" fill="#2db34b"/><path d="M-5.5,0.4 L-0.9,4.1 L5.2,-3.6" fill="none" stroke="#fff" stroke-width="3.2" stroke-linecap="round" stroke-linejoin="round"/></svg>
<div class="t" style="left:1026.60px;top:872.13px;font-size:11.75px;line-height:15px;font-weight:bold;color:#fff;">16 MeV</div>
<svg class="r" style="left:318.90px;top:932.50px" width="20.00" height="20.00" viewBox="-10 -10 20 20"><circle r="10" fill="#39b54a"/><path d="M-5.5,0.4 L-0.9,4.1 L5.2,-3.6" fill="none" stroke="#fff" stroke-width="3.2" stroke-linecap="round" stroke-linejoin="round"/></svg>
<div class="t" style="left:352.30px;top:934.10px;font-size:13px;line-height:17px;font-weight:bold;color:#111;">6 MV</div>
<div class="r" style="left:321.5px;top:968px;width:125.5px;height:200px;background:#f8f8f8;border:1px solid #e6e6e6;"></div>
<div class="t" style="left:340.50px;top:982.86px;font-size:14.25px;line-height:19px;font-weight:bold;color:#111;letter-spacing:0.3px;">Setup</div>
<div class="r" style="left:328.00px;top:1007.00px;width:114.00px;height:1.00px;background:#e2e2e2"></div>
<div class="r" style="left:328px;top:1019.6px;width:111.7px;height:38.5px;background:#efefef;border:1px solid #c8c8c8;box-shadow:inset 0 1px 1px rgba(0,0,0,.08);"></div>
<div class="t" style="left:332.80px;top:1023.92px;font-size:11.5px;line-height:15px;color:#999;">MU</div>
<div class="r" style="left:465.60px;top:967.50px;width:141.00px;height:35.50px;background:#337ab7;border:1px solid #2e6da4"></div>
<div class="t" style="left:237.10px;width:600px;text-align:center;top:976.63px;font-size:15.5px;line-height:20px;color:#fff;">Activate QA task</div>
<div class="t" style="left:461.00px;top:1008.06px;font-size:14.25px;line-height:19px;font-weight:bold;color:#111;letter-spacing:0.5px;">Result</div>
</div></body></html>
